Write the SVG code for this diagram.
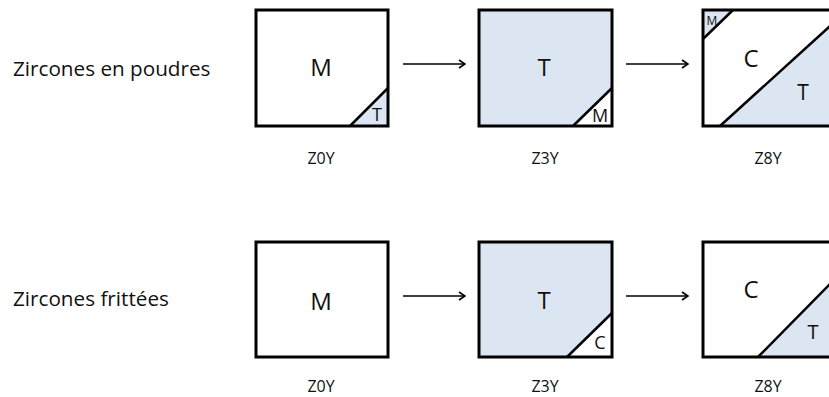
<svg xmlns="http://www.w3.org/2000/svg" width="829" height="397" viewBox="0 0 829 397">
<defs>
<style>
text{font-family:"Open Sans","Noto Sans",sans-serif;fill:#111;text-anchor:middle}
.lab{text-anchor:start;font-size:20.7px}
.big{font-size:24px}
.mid{font-size:21px}
.sm{font-size:18px}
.cap{font-size:16px}
.box{fill:none;stroke:#000;stroke-width:3}
.diag{stroke:#000;stroke-width:2.5;fill:none}
.blue{fill:#dce6f2}
.wh{fill:#fff}
.arr{stroke:#000;stroke-width:1.3;fill:none}
</style>
<marker id="ah" viewBox="0 0 10 10" refX="9" refY="5" markerWidth="10" markerHeight="10" markerUnits="userSpaceOnUse" orient="auto">
<path d="M3,1 L9,5 L3,9" fill="none" stroke="#000" stroke-width="1.6"/>
</marker>
</defs>
<rect width="829" height="397" fill="#fff"/>
<text class="lab" x="13" y="76">Zircones en poudres</text>
<text class="lab" x="13" y="306">Zircones frittées</text>

<g id="p-z0y">
<rect class="wh" x="256" y="10" width="132" height="116"/>
<polygon class="blue" points="350,126 388,88 388,126"/>
<line class="diag" x1="350" y1="126" x2="388" y2="88"/>
<rect class="box" x="256" y="10" width="132" height="116"/>
<text class="big" x="321" y="76">M</text>
<text class="sm" x="377" y="121">T</text>
<text class="cap" x="321" y="164">Z0Y</text>
</g>
<g id="p-z3y">
<rect class="blue" x="479" y="10" width="133" height="116"/>
<polygon class="wh" points="573,126 612,88 612,126"/>
<line class="diag" x1="573" y1="126" x2="612" y2="88"/>
<rect class="box" x="479" y="10" width="133" height="116"/>
<text class="big" x="544" y="76">T</text>
<text class="sm" x="600" y="122">M</text>
<text class="cap" x="545" y="164">Z3Y</text>
</g>
<g id="p-z8y">
<rect class="wh" x="703" y="10" width="131" height="116"/>
<polygon class="blue" points="703,10 733,10 703,39"/>
<line class="diag" x1="733" y1="10" x2="703" y2="39"/>
<polygon class="blue" points="720,126 834,22.5 834,126"/>
<line class="diag" x1="720" y1="126" x2="834" y2="22.5"/>
<rect class="box" x="703" y="10" width="131" height="116"/>
<text style="font-size:12px" x="712" y="25">M</text>
<text class="big" x="751" y="67">C</text>
<text class="mid" x="803" y="100">T</text>
<text class="cap" x="768" y="164">Z8Y</text>
</g>

<g id="f-z0y">
<rect class="wh" x="256" y="242" width="132" height="115"/>
<rect class="box" x="256" y="242" width="132" height="115"/>
<text class="big" x="321" y="310">M</text>
<text class="cap" x="321" y="392">Z0Y</text>
</g>
<g id="f-z3y">
<rect class="blue" x="479" y="242" width="133" height="115"/>
<polygon class="wh" points="567,357 612,313 612,357"/>
<line class="diag" x1="567" y1="357" x2="612" y2="313"/>
<rect class="box" x="479" y="242" width="133" height="115"/>
<text class="big" x="544" y="309">T</text>
<text class="sm" x="600" y="349">C</text>
<text class="cap" x="545" y="392">Z3Y</text>
</g>
<g id="f-z8y">
<rect class="wh" x="703" y="242" width="131" height="115"/>
<polygon class="blue" points="758,357 834,280 834,357"/>
<line class="diag" x1="758" y1="357" x2="834" y2="280"/>
<rect class="box" x="703" y="242" width="131" height="115"/>
<text class="big" x="751" y="298">C</text>
<text style="font-size:20px" x="813" y="339">T</text>
<text class="cap" x="768" y="392">Z8Y</text>
</g>

<g id="connectors">
<line class="arr" x1="403" y1="64" x2="465" y2="64" marker-end="url(#ah)"/>
<line class="arr" x1="626" y1="64" x2="688" y2="64" marker-end="url(#ah)"/>
<line class="arr" x1="403" y1="296" x2="465" y2="296" marker-end="url(#ah)"/>
<line class="arr" x1="626" y1="296" x2="688" y2="296" marker-end="url(#ah)"/>
</g>
</svg>
